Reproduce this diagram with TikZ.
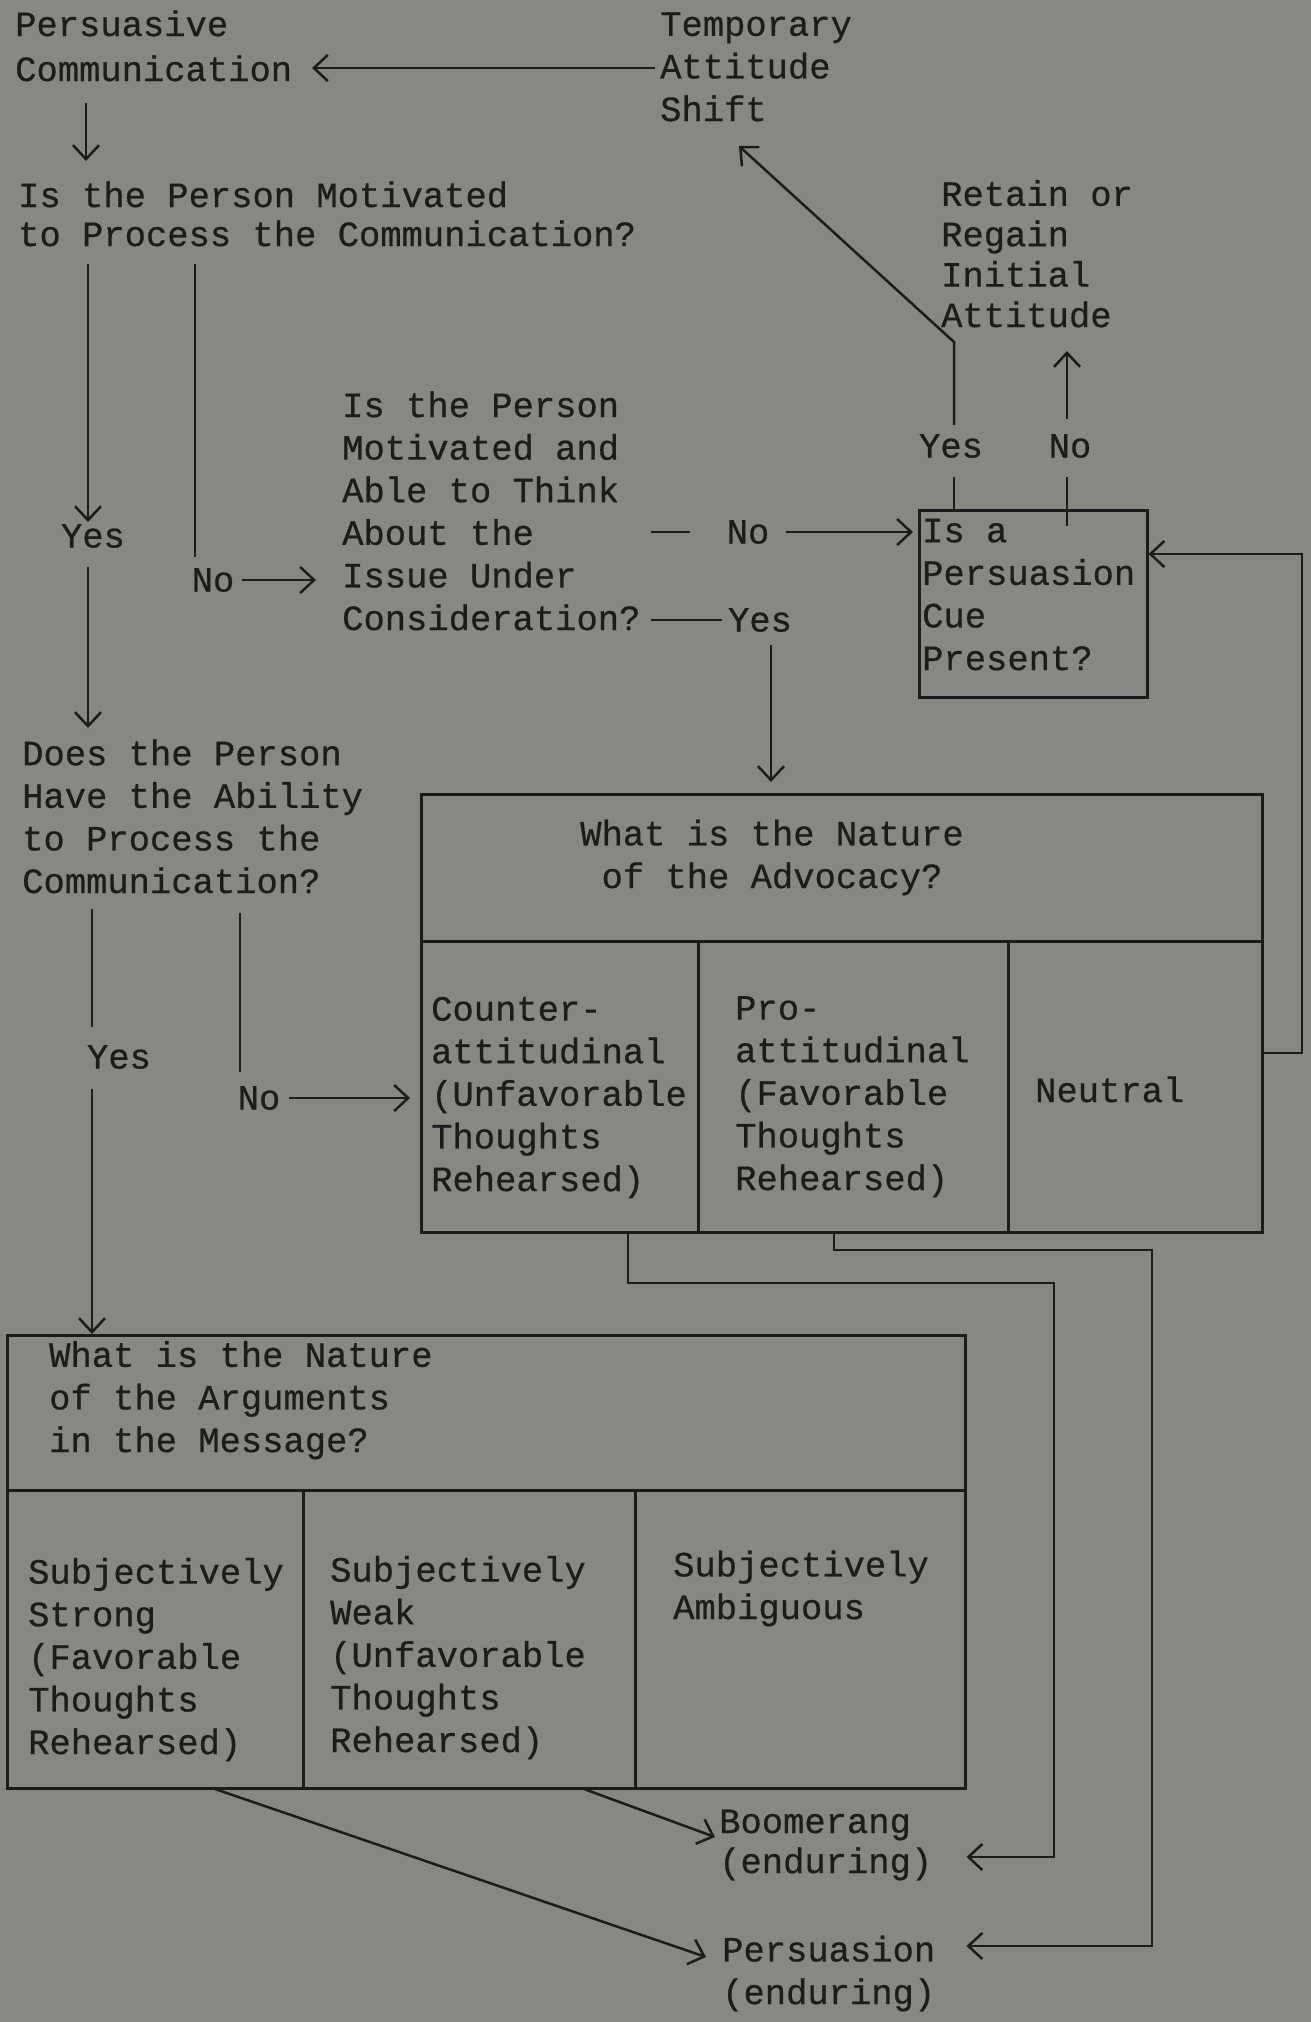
\documentclass[tikz,border=0pt]{standalone}
\usepackage{fontspec}
\usetikzlibrary{arrows.meta,calc}
\newfontfamily\tw[FakeBold=0.6]{Liberation Mono}
\definecolor{paper}{RGB}{137,135,130}
\definecolor{ink}{RGB}{28,28,28}
\tikzset{
  txt/.style={font=\tw\fontsize{35.5}{42.6}\selectfont, text=ink, inner sep=0pt, align=left, anchor=base west},
  lsp/.style={font=\tw\fontsize{35.5}{#1}\selectfont},
  ctxt/.style={font=\tw\fontsize{35.5}{42.6}\selectfont, text=ink, inner sep=0pt, align=center, anchor=base},
  lbl/.style={font=\tw\fontsize{35.5}{42.6}\selectfont, text=ink, inner sep=0pt},
  box/.style={draw=ink, line width=2.5pt, inner sep=0pt, anchor=north west},
  ln/.style={draw=ink, line width=2.5pt, line join=miter},
  arr/.style={ln, -{Straight Barb[length=14pt,width=26pt,line width=2.5pt]}},
}
\begin{document}
\begin{tikzpicture}[x=1pt,y=-1pt]
\useasboundingbox (0,0) rectangle (1311,2022);
\fill[paper] (0,0) rectangle (1311,2022);

% texts (anchor = baseline of the last line)
\node[txt, lsp=45] (pc) at (15,81) {Persuasive\\Communication};
\node[txt] (tas) at (660,121) {Temporary\\Attitude\\Shift};
\node[txt, lsp=39] (q1) at (18,246) {Is the Person Motivated\\to Process the Communication?};
\node[txt] (q2) at (342,630) {Is the Person\\Motivated and\\Able to Think\\About the\\Issue Under\\Consideration?};
\node[txt, lsp=40.4] (ret) at (941,327) {Retain or\\Regain\\Initial\\Attitude};
\node[txt] (q3) at (22,893) {Does the Person\\Have the Ability\\to Process the\\Communication?};

% cue box
\node[box, minimum width=228pt, minimum height=187pt] (cuebox) at (918,509) {};
\node[txt] (cue) at (922,670) {Is a\\Persuasion\\Cue\\Present?};

% advocacy table
\node[box, minimum width=841pt, minimum height=147pt] (advh) at (420,793) {};
\node[box, minimum width=277pt, minimum height=291pt] (advc1) at (420,940) {};
\node[box, minimum width=310pt, minimum height=291pt] (advc2) at (697,940) {};
\node[box, minimum width=254pt, minimum height=291pt] (advc3) at (1007,940) {};
\node[ctxt] (advt) at (772,888) {What is the Nature\\of the Advocacy?};
\node[txt] (counter) at (431,1191) {Counter-\\attitudinal\\(Unfavorable\\Thoughts\\Rehearsed)};
\node[txt] (pro) at (735,1190) {Pro-\\attitudinal\\(Favorable\\Thoughts\\Rehearsed)};
\node[txt] (neutral) at (1035,1102) {Neutral};

% arguments table
\node[box, minimum width=958pt, minimum height=155pt] (argh) at (6,1334) {};
\node[box, minimum width=296pt, minimum height=298pt] (argc1) at (6,1489) {};
\node[box, minimum width=332pt, minimum height=298pt] (argc2) at (302,1489) {};
\node[box, minimum width=330pt, minimum height=298pt] (argc3) at (634,1489) {};
\node[txt] (argt) at (49,1452) {What is the Nature\\of the Arguments\\in the Message?};
\node[txt] (strong) at (28,1754) {Subjectively\\Strong\\(Favorable\\Thoughts\\Rehearsed)};
\node[txt] (weak) at (330,1752) {Subjectively\\Weak\\(Unfavorable\\Thoughts\\Rehearsed)};
\node[txt] (ambig) at (673,1619) {Subjectively\\Ambiguous};

% outcomes
\node[txt, lsp=40] (boom) at (719,1873) {Boomerang\\(enduring)};
\node[txt] (pers) at (722,2004) {Persuasion\\(enduring)};

% labels
\node[lbl] (yes1) at (93,536) {Yes};
\node[lbl] (no1) at (213,580) {No};
\node[lbl] (no2) at (748,532) {No};
\node[lbl] (yes2) at (760,620) {Yes};
\node[lbl] (yes3) at (951,446) {Yes};
\node[lbl] (no3) at (1070,446) {No};
\node[lbl] (yes4) at (119,1057) {Yes};
\node[lbl] (no4) at (259,1098) {No};

% coordinates
\coordinate (a1) at (655,68);
\coordinate (a2) at (312,68);
\coordinate (b1) at (86,103);
\coordinate (b2) at (86,161);
\coordinate (c1) at (88,264);
\coordinate (c2) at (88,522);
\coordinate (c3) at (88,567);
\coordinate (c4) at (88,728);
\coordinate (d1) at (195,264);
\coordinate (d2) at (195,557);
\coordinate (d3) at (242,580);
\coordinate (d4) at (316,580);
\coordinate (e1) at (651,532);
\coordinate (e2) at (690,532);
\coordinate (e3) at (786,532);
\coordinate (e4) at (913,532);
\coordinate (f1) at (651,620);
\coordinate (f2) at (722,620);
\coordinate (f3) at (771,645);
\coordinate (f4) at (771,782);
\coordinate (g1) at (954,509);
\coordinate (g2) at (954,477);
\coordinate (g3) at (954,425);
\coordinate (g4) at (954,342);
\coordinate (g5) at (739,146);
\coordinate (h1) at (1067,526);
\coordinate (h2) at (1067,477);
\coordinate (h3) at (1067,419);
\coordinate (h4) at (1067,351);
\coordinate (i1) at (1302,1053);
\coordinate (i2) at (1302,554);
\coordinate (j1) at (92,909);
\coordinate (j2) at (92,1027);
\coordinate (j3) at (92,1089);
\coordinate (k1) at (240,913);
\coordinate (k2) at (240,1072);
\coordinate (k3) at (289,1098);
\coordinate (k4) at (410,1098);
\coordinate (m1) at (628,1283);
\coordinate (m2) at (1054,1283);
\coordinate (m3) at (1054,1857);
\coordinate (n1) at (834,1250);
\coordinate (n2) at (1152,1250);
\coordinate (n3) at (1152,1946);
\coordinate (p1) at (215,1789);
\coordinate (p2) at (706,1957);
\coordinate (q1a) at (584,1789);
\coordinate (q2a) at (715,1837);

% connectors
\draw[arr] (a1) -- (a2);
\draw[arr] (b1) -- (b2);
\draw[arr] (c1) -- (c2);
\draw[arr] (c3) -- (c4);
\draw[ln] (d1) -- (d2);
\draw[arr] (d3) -- (d4);
\draw[ln] (e1) -- (e2);
\draw[arr] (e3) -- (e4);
\draw[ln] (f1) -- (f2);
\draw[arr] (f3) -- (f4);
\draw[ln] (g1) -- (g2);
\draw[arr] (g3) -- (g4) -- (g5);
\draw[ln] (h1) -- (h2);
\draw[arr] (h3) -- (h4);
\draw[arr] (advc3.east |- i1) -- (i1) -- (i2) -- (cuebox.east |- i2);
\draw[ln] (j1) -- (j2);
\draw[arr] (j3) -- (j3 |- argh.north);
\draw[ln] (k1) -- (k2);
\draw[arr] (k3) -- (k4);
\draw[arr] (m1 |- advc1.south) -- (m1) -- (m2) -- (m3) -- (argh.east |- m3);
\draw[arr] (n1 |- advc2.south) -- (n1) -- (n2) -- (n3) -- (argh.east |- n3);
\draw[arr] (p1) -- (p2);
\draw[arr] (q1a) -- (q2a);
\end{tikzpicture}
\end{document}
